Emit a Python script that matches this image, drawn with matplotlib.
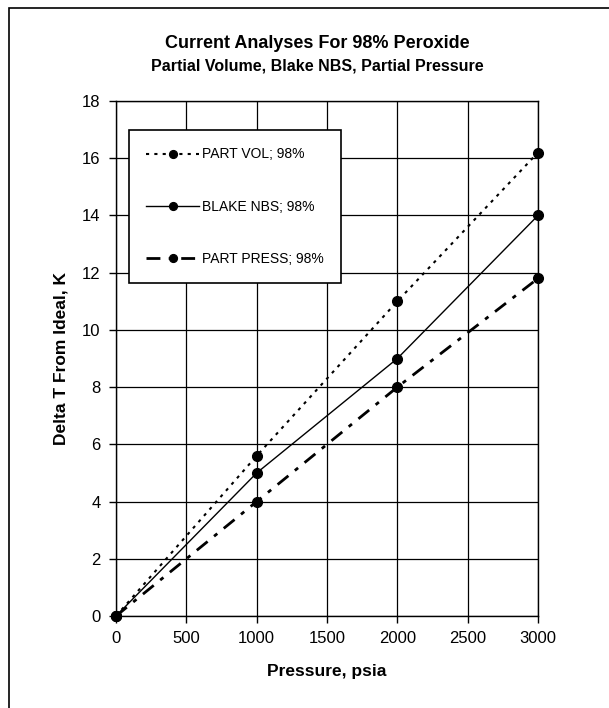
import numpy as np
import matplotlib.pyplot as plt
from matplotlib.patches import Rectangle

plt.rcParams['font.family'] = ['Liberation Sans', 'DejaVu Sans']

# data
pressure = [0, 1000, 2000, 3000]
part_vol = [0, 5.6, 11.0, 16.2]
blake_nbs = [0, 5.0, 9.0, 14.0]
part_press = [0, 4.0, 8.0, 11.8]
labels = ['PART VOL; 98%', 'BLAKE NBS; 98%', 'PART PRESS; 98%']
xticks = [0, 500, 1000, 1500, 2000, 2500, 3000]
yticks = [0, 2, 4, 6, 8, 10, 12, 14, 16, 18]

fig = plt.figure(figsize=(6.09, 7.08), dpi=100)
ax = fig.add_axes([0.1905, 0.1299, 0.6929, 0.7274])

#outer frame (only left and top visible)
fig.patches.append(Rectangle((9/609, -0.1), 1.2, 1 - 8/708 + 0.1, transform=fig.transFigure,
                             fill=False, edgecolor='black', lw=1.2))

ax.plot(pressure, part_vol, color='black', ls=(0, (1.5, 2.5)), lw=1.5,
        marker='o', ms=7, clip_on=False, label=labels[0], zorder=3)
ax.plot(pressure, blake_nbs, color='black', ls='-', lw=1.0,
        marker='o', ms=7, clip_on=False, label=labels[1], zorder=3)
ax.plot(pressure, part_press, color='black', ls=(0, (5, 3, 1.5, 3)), lw=2.0,
        marker='o', ms=7, clip_on=False, label=labels[2], zorder=3)

ax.set_xlim(0, 3000)
ax.set_ylim(0, 18)
ax.set_xticks(xticks)
ax.set_yticks(yticks)
ax.grid(True, color='black', lw=0.9)
ax.set_axisbelow(True)
ax.tick_params(direction='out', length=5, width=1, labelsize=12, colors='black', pad=6)
for s in ax.spines.values():
    s.set_color('black')
    s.set_linewidth(1)

ax.set_xlabel('Pressure, psia', fontsize=12.5, fontweight='bold', labelpad=13)
ax.set_ylabel('Delta T From Ideal, K', fontsize=12.5, fontweight='bold', labelpad=10)

fig.text(317/609, 1 - 43/708, 'Current Analyses For 98% Peroxide', ha='center', va='center',
         fontsize=13, fontweight='bold')
fig.text(317/609, 1 - 66/708, 'Partial Volume, Blake NBS, Partial Pressure', ha='center', va='center',
         fontsize=11.5, fontweight='bold')

leg = ax.legend(loc='upper left', bbox_to_anchor=((129 - 116)/422, (616 - 130)/515),
                fontsize=10, frameon=True, fancybox=False, shadow=False,
                handlelength=3.8, handletextpad=0.2, labelspacing=2.75,
                borderpad=1.25, borderaxespad=0, markerscale=0.8)
leg.get_frame().set_edgecolor('black')
leg.get_frame().set_linewidth(1.2)
leg.get_frame().set_alpha(1)

fig.savefig('out.png', dpi=100)
